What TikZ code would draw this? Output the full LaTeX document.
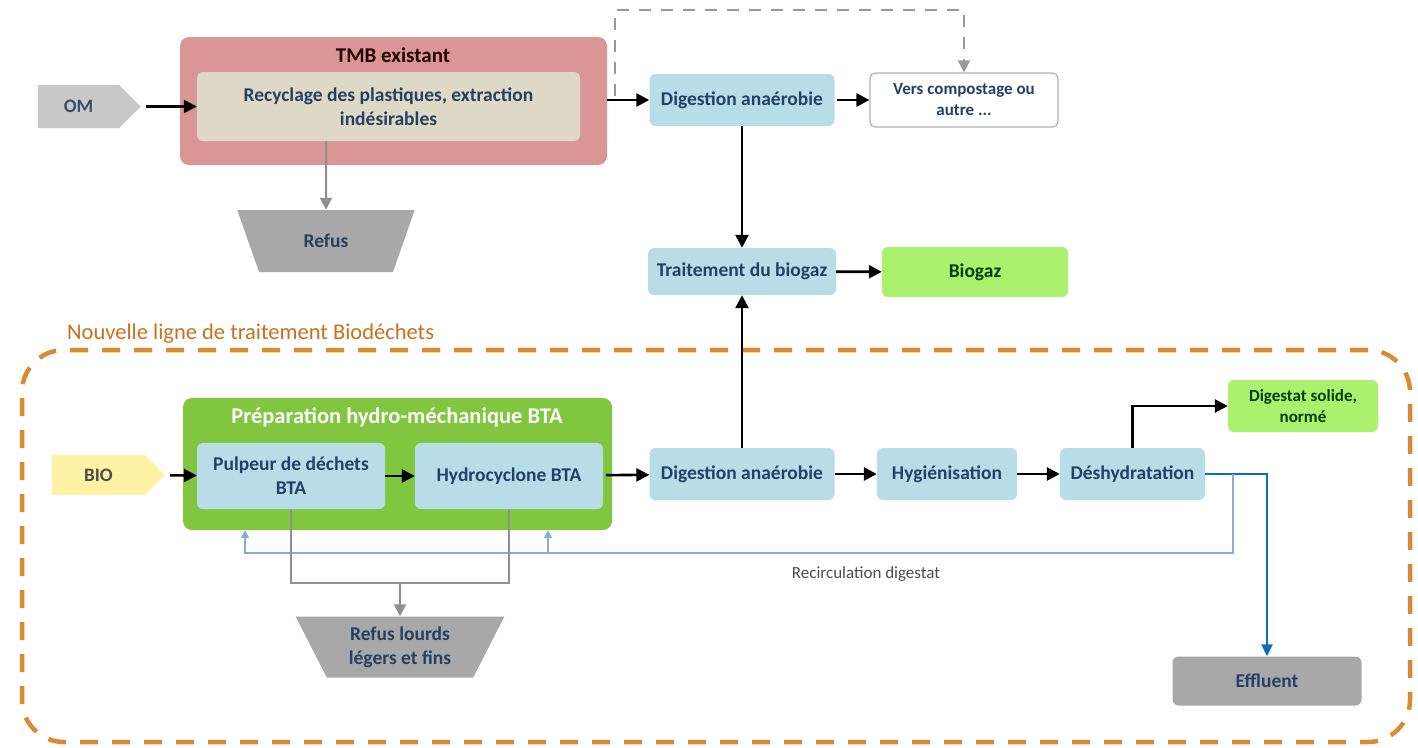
\documentclass[tikz,border=0pt]{standalone}
\usepackage{fontspec}
\setmainfont{Carlito}
\usetikzlibrary{arrows.meta,shapes.geometric,shapes.symbols,positioning}

\definecolor{tmbred}{RGB}{218,150,148}
\definecolor{beige}{RGB}{222,217,196}
\definecolor{procblue}{RGB}{183,221,233}
\definecolor{txtblue}{RGB}{35,65,100}
\definecolor{prepgreen}{RGB}{128,198,62}
\definecolor{lightgreen}{RGB}{170,242,110}
\definecolor{outgray}{RGB}{168,168,168}
\definecolor{ingray}{RGB}{200,200,200}
\definecolor{paleyellow}{RGB}{255,242,165}
\definecolor{dashorange}{RGB}{218,138,48}
\definecolor{titleorange}{RGB}{200,112,30}
\definecolor{effblue}{RGB}{10,110,190}
\definecolor{recblue}{RGB}{140,170,215}

\begin{document}
\begin{tikzpicture}[x=1pt,y=-1pt,
  proc/.style = {rounded corners=6pt, fill=procblue, text=txtblue, align=center, inner sep=2pt,
                 font=\bfseries\fontsize{19.5}{24}\selectfont, minimum height=52pt},
  output/.style = {proc, fill=lightgreen, text=black!75!green},
  source/.style = {signal, signal to=east, signal pointer angle=90, inner sep=0pt,
                   font=\bfseries\fontsize{19}{22}\selectfont, text=txtblue!80!gray},
  waste/.style = {trapezium, trapezium left angle=118, trapezium right angle=118, trapezium stretches=true,
                  fill=outgray, text=txtblue, align=center, inner sep=0pt,
                  font=\bfseries\fontsize{19.5}{24}\selectfont},
  arr/.style = {line width=2.6pt, -{Triangle[length=13pt,width=13pt]}},
  grayarr/.style = {line width=2pt, draw=outgray!85!black, -{Triangle[length=12pt,width=12pt]}},
  recirc/.style = {line width=1.6pt, draw=recblue, -{Triangle[length=8pt,width=8pt]}}]

\useasboundingbox (0,0) rectangle (1418,747);

% existing line
\node[rounded corners=9pt, fill=tmbred, minimum width=427pt, minimum height=128pt] (tmb) at (393.5,101) {};
\node[font=\bfseries\fontsize{21}{24}\selectfont, text=black!85!red] (tmbtitle) at (393,55) {TMB existant};
\node[proc, fill=beige, minimum width=383pt, minimum height=69pt] (rec) at (388.5,106.5)
  {Recyclage des plastiques, extraction\\indésirables};
\node[source, fill=ingray, minimum width=103pt, minimum height=43pt] (om) at (78.5,106.5) {OM};
\node[waste, minimum width=178pt, minimum height=62pt] (refus) at (326,241) {Refus};

\node[proc, minimum width=185pt] (dig1) at (742,100) {Digestion anaérobie};
\node[proc, fill=white, draw=gray!60, line width=1.2pt, minimum width=188pt, minimum height=54pt,
      font=\bfseries\fontsize{17}{21}\selectfont] (vers) at (964,100) {Vers compostage ou\\autre ...};
\node[proc, minimum width=188pt, minimum height=47pt] (trait) at (742,271.5) {Traitement du biogaz};
\node[output, minimum width=186pt, minimum height=50pt] (biogaz) at (975,272) {Biogaz};

% new line
\node[draw=dashorange, line width=4.5pt, dash pattern=on 18pt off 14pt, rounded corners=42pt,
      minimum width=1388pt, minimum height=392pt] (newline) at (716,546) {};
\node[anchor=west, font=\fontsize{22.5}{26}\selectfont, text=titleorange, inner sep=0pt] (newtitle) at (67,334)
  {Nouvelle ligne de traitement Biodéchets};

\node[rounded corners=9pt, fill=prepgreen, minimum width=429pt, minimum height=132pt] (prep) at (397.5,464) {};
\node[font=\bfseries\fontsize{22.5}{26}\selectfont, text=white] (preptitle) at (397,417)
  {Préparation hydro-méchanique BTA};
\node[proc, minimum width=188pt, minimum height=66pt] (pulp) at (291,476) {Pulpeur de déchets\\BTA};
\node[proc, minimum width=188pt, minimum height=66pt] (hydro) at (509,476) {Hydrocyclone BTA};
\node[source, fill=paleyellow, minimum width=113pt, minimum height=40pt, text=black!70] (bio) at (98.5,475) {BIO};
\node[waste, minimum width=209pt, minimum height=61pt] (refus2) at (400,647) {Refus lourds\\légers et fins};

\node[proc, minimum width=185pt] (dig2) at (742,474) {Digestion anaérobie};
\node[proc, minimum width=140pt] (hyg) at (947,474) {Hygiénisation};
\node[proc, minimum width=145pt] (desh) at (1132.5,474) {Déshydratation};
\node[output, minimum width=150pt, font=\bfseries\fontsize{17}{21}\selectfont] (digsol) at (1303,406)
  {Digestat solide,\\normé};
\node[proc, fill=outgray, minimum width=189pt, minimum height=49pt] (eff) at (1267,681) {Effluent};
\node[font=\fontsize{17}{20}\selectfont, text=black!70] (rectext) at (866,574) {Recirculation digestat};

\coordinate (fork) at (615,96);
\coordinate (ftop) at (615,10);
\coordinate (jn) at (400,583);
\coordinate (rc) at (1233,553);
\coordinate (r1) at (245,530);
\coordinate (r2) at (548,530);

% connectors
\draw[arr, shorten <=5pt] (om) -- (rec);
\draw[arr] (tmb.east |- dig1) -- (dig1);
\draw[line width=2.4pt, draw=gray!80, dash pattern=on 12pt off 10pt, -{Triangle[length=12pt,width=12pt]}]
  (fork) -- (ftop) -| (vers.north);
\draw[arr, shorten <=2pt] (dig1) -- (vers);
\draw[arr] (dig1) -- (trait);
\draw[arr] (trait) -- (biogaz);
\draw[grayarr] (rec.south -| refus) -- (refus);

\draw[arr, shorten <=5pt] (bio) -- (pulp);
\draw[arr] (pulp) -- (hydro);
\draw[arr, shorten <=3pt] (hydro) -- (dig2);
\draw[arr] (dig2) -- (hyg);
\draw[arr] (hyg) -- (desh);
\draw[arr] (dig2) -- (trait);
\draw[arr] (desh.north) |- (digsol);
\draw[line width=2.2pt, draw=effblue, -{Triangle[length=12pt,width=11pt]}] (desh.east) -| (eff.north);
\draw[recirc] (desh.east -| rc) -- (rc) -| (r1);
\draw[recirc] (r2 |- rc) -- (r2);
\draw[line width=2pt, draw=outgray!85!black] (pulp.south) |- (jn) -| (hydro.south);
\draw[grayarr] (jn) -- (refus2);
\end{tikzpicture}
\end{document}
